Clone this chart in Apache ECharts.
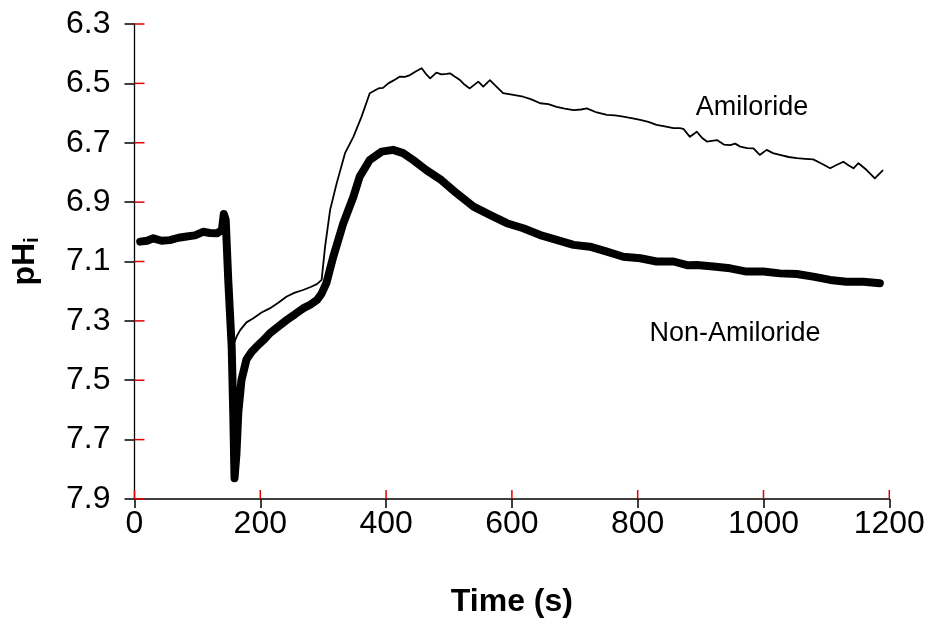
<!DOCTYPE html>
<html>
<head>
<meta charset="utf-8">
<script src="https://cdn.jsdelivr.net/npm/echarts@6/dist/echarts.min.js"></script>
<style>
html,body{margin:0;padding:0;background:#fff;}
#chart{width:931px;height:624px;}
</style>
</head>
<body>
<div id="chart"></div>
<script>
// ---- data ----
var xTicks = [0, 200, 400, 600, 800, 1000, 1200];
var yTicks = [6.3, 6.5, 6.7, 6.9, 7.1, 7.3, 7.5, 7.7, 7.9];

var nonAmilTime = [9,20,30,43,56,70,83,96,109,120,131,139,142,145,149,154.5,157,159,162,165,170,178,186,194,205,215,228,242,255,268,280,290,297,305,316,332,348,358,374,393,411,427,443,464,488,512,539,565,592,618,645,671,698,724,751,777,804,830,857,880,894,920,947,973,1000,1026,1053,1079,1106,1132,1159,1185];
var nonAmilPH = [7.033,7.03,7.022,7.03,7.028,7.02,7.016,7.012,7.0,7.004,7.005,6.994,6.94,6.96,7.16,7.387,7.61,7.83,7.75,7.61,7.50,7.43,7.405,7.387,7.365,7.342,7.32,7.297,7.278,7.258,7.245,7.23,7.21,7.173,7.084,6.971,6.882,6.814,6.758,6.73,6.724,6.735,6.758,6.792,6.826,6.87,6.915,6.943,6.971,6.988,7.011,7.027,7.044,7.05,7.067,7.084,7.089,7.10,7.10,7.113,7.112,7.117,7.123,7.134,7.134,7.14,7.142,7.151,7.162,7.168,7.168,7.173];

var amilTime = [9,30,56,83,109,131,139,142,149,154,158,163,168,178,189,202,215,228,242,255,268,280,290,297.5,303,311,321.5,334.7,348,361,374,387.6,395,403.5,412,422,430,438,447,456.6,464,470,480,488,496,501.6,509,517.5,525,533,540,546.6,554.5,565,575,586,600,618,630,645,658,671,684,698,710,719,735,751,764,777,790,804,817,830,843,857,867,872.5,883,894,902,910,926,937,947,955,963,974,984,994,1005,1015,1026,1040,1053,1066,1079,1092,1106,1116,1127,1135,1143,1151,1164,1177,1190];
var amilPH = [7.04,7.027,7.032,7.02,7.004,7.008,6.998,6.945,7.16,7.33,7.376,7.35,7.331,7.305,7.291,7.272,7.258,7.24,7.218,7.205,7.196,7.186,7.176,7.162,7.05,6.926,6.836,6.735,6.68,6.612,6.533,6.517,6.515,6.50,6.49,6.477,6.478,6.472,6.46,6.449,6.47,6.483,6.464,6.47,6.468,6.466,6.477,6.489,6.505,6.517,6.505,6.494,6.511,6.489,6.51,6.533,6.538,6.545,6.553,6.567,6.57,6.579,6.585,6.59,6.588,6.584,6.598,6.606,6.608,6.612,6.617,6.623,6.63,6.64,6.645,6.651,6.651,6.653,6.68,6.663,6.683,6.696,6.691,6.706,6.708,6.703,6.713,6.718,6.719,6.741,6.724,6.735,6.741,6.748,6.752,6.754,6.756,6.77,6.786,6.775,6.764,6.776,6.786,6.769,6.792,6.82,6.792];

var seriesNames = ['Non-Amiloride', 'Amiloride'];
var xName = 'Time (s)';

function pairs(t, v) { return t.map(function (x, i) { return [x, v[i]]; }); }

var FONT = '"Liberation Sans", Arial, sans-serif';
var chart = echarts.init(document.getElementById('chart'), null, {renderer: 'canvas'});

var xMain = {
  type: 'value', min: 0, max: 1200, position: 'bottom',
  axisLine: {show: true, onZero: false, lineStyle: {color: '#000', width: 1.5}},
  axisTick: {show: true, length: 9, customValues: xTicks, lineStyle: {color: '#000', width: 1.5}},
  axisLabel: {show: true, customValues: xTicks, margin: 9, color: '#000', fontSize: 32, fontFamily: FONT,
    formatter: function (v) { return String(v); }},
  splitLine: {show: false},
  name: xName, nameLocation: 'middle', nameGap: 87,
  nameTextStyle: {color: '#000', fontSize: 32, fontWeight: 'bold', fontFamily: FONT}
};

var yMain = {
  type: 'value', min: 6.3, max: 7.9, inverse: true, position: 'left',
  axisLine: {show: true, onZero: false, lineStyle: {color: '#000', width: 1.3}},
  axisTick: {show: true, length: 10, customValues: yTicks, lineStyle: {color: '#000', width: 1.5}},
  axisLabel: {show: true, customValues: yTicks, margin: 24, color: '#000', fontSize: 32, fontFamily: FONT,
    formatter: function (v) { return v.toFixed(1); }},
  splitLine: {show: false},
  name: '{a|pH}{b|i}', nameLocation: 'middle', nameRotate: 90, nameGap: 92,
  nameTextStyle: {
    color: '#000', fontFamily: FONT,
    rich: {
      a: {fontSize: 32, fontWeight: 'bold', fontFamily: FONT, color: '#000', lineHeight: 34},
      b: {fontSize: 20, fontWeight: 'bold', fontFamily: FONT, color: '#000', verticalAlign: 'bottom', lineHeight: 20}
    }
  }
};

var labelGraphics = [
  {id: 'lblAmil', type: 'text', x: 752, y: 108, style: {text: seriesNames[1], fill: '#000', font: '27px ' + FONT, textAlign: 'center', textVerticalAlign: 'middle'}},
  {id: 'lblNon', type: 'text', x: 735, y: 334, style: {text: seriesNames[0], fill: '#000', font: '27px ' + FONT, textAlign: 'center', textVerticalAlign: 'middle'}}
];

var option = {
  backgroundColor: '#fff',
  animation: false,
  grid: {left: 134.5, right: 41.7, top: 24, bottom: 125, containLabel: false},
  xAxis: [xMain],
  yAxis: [yMain],
  series: [
    {
      name: seriesNames[0], type: 'line', xAxisIndex: 0, yAxisIndex: 0,
      data: pairs(nonAmilTime, nonAmilPH), showSymbol: false, symbol: 'none', smooth: false,
      lineStyle: {color: '#000', width: 8, join: 'round', cap: 'round'}
    },
    {
      name: seriesNames[1], type: 'line', xAxisIndex: 0, yAxisIndex: 0,
      data: pairs(amilTime, amilPH), showSymbol: false, symbol: 'none', smooth: false,
      lineStyle: {color: '#000', width: 1.8, join: 'round'}
    }
  ],
  graphic: labelGraphics
};
chart.setOption(option);

// inward halves of the crossing tick marks, positioned through the chart's own axis scales
// (temporarily red to check that they are drawn)
var TICK_COLOR = '#e00000';
var tickGraphics = [];
var yBottom = yTicks[yTicks.length - 1];
xTicks.forEach(function (v, i) {
  var p = chart.convertToPixel({xAxisIndex: 0, yAxisIndex: 0}, [v, yBottom]);
  tickGraphics.push({id: 'xt' + i, type: 'line', z: 100,
    shape: {x1: p[0], y1: p[1], x2: p[0], y2: p[1] - 9},
    style: {stroke: TICK_COLOR, lineWidth: 1.5}});
});
yTicks.forEach(function (v, i) {
  var p = chart.convertToPixel({xAxisIndex: 0, yAxisIndex: 0}, [xTicks[0], v]);
  tickGraphics.push({id: 'yt' + i, type: 'line', z: 100,
    shape: {x1: p[0], y1: p[1], x2: p[0] + 10, y2: p[1]},
    style: {stroke: TICK_COLOR, lineWidth: 1.5}});
});
chart.setOption({graphic: labelGraphics.concat(tickGraphics)});
</script>
</body>
</html>
